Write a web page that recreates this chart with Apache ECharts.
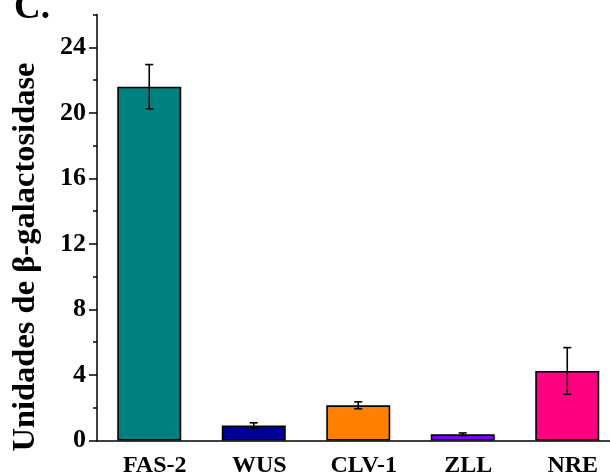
<!DOCTYPE html>
<html>
<head>
<meta charset="utf-8">
<script src="https://cdn.jsdelivr.net/npm/echarts@6/dist/echarts.min.js"></script>
<style>html,body{margin:0;padding:0;background:#fff;}#c{width:610px;height:476px;}</style>
</head>
<body>
<div id="c"></div>
<script>
var categories = ['FAS-2', 'WUS', 'CLV-1', 'ZLL', 'NRE'];
var means = [21.6, 0.92, 2.15, 0.38, 4.25];
var errors = [1.35, 0.16, 0.21, 0.08, 1.42];
var colors = ['#008080', '#000099', '#FF8000', '#8000FF', '#FF0080'];
var yTicks = [0, 4, 8, 12, 16, 20, 24];

var font = 'Liberation Serif';
var chart = echarts.init(document.getElementById('c'), null, {renderer: 'canvas'});

var errData = categories.map(function (c, i) { return [i, means[i] - errors[i], means[i] + errors[i]]; });

var option = {
  animation: false,
  backgroundColor: '#fff',
  grid: [
    {left: 97, width: 522.5, top: 14.6, bottom: 35.5, outerBoundsMode: 'none'},
    {left: 97, width: 522.5, top: 47.4, bottom: 35.5, outerBoundsMode: 'none'}
  ],
  xAxis: [
    {type: 'category', data: categories, gridIndex: 0,
      axisLine: {lineStyle: {color: '#000', width: 1.5}},
      axisTick: {alignWithLabel: true, length: 8, lineStyle: {color: '#000', width: 1.5}},
      axisLabel: {color: '#000', fontFamily: font, fontWeight: 'bold', fontSize: 24, margin: 13, interval: 0,
        padding: [0, 0, 0, 11]}
    },
    {type: 'category', data: categories, gridIndex: 0, position: 'bottom',
      axisLine: {show: false},
      axisTick: {length: 4, interval: 0, lineStyle: {color: '#000', width: 1.5}},
      axisLabel: {show: false}
    },
    {type: 'category', data: categories, gridIndex: 1, show: false}
  ],
  yAxis: [
    {type: 'value', gridIndex: 0, min: 0, max: 26, interval: 2,
      axisLine: {show: true, lineStyle: {color: '#000', width: 1.5}},
      axisTick: {show: true, length: 4, lineStyle: {color: '#000', width: 1.5}},
      axisLabel: {show: false},
      splitLine: {show: false}
    },
    {type: 'value', gridIndex: 1, min: yTicks[0], max: yTicks[yTicks.length - 1], interval: 4,
      axisLine: {show: false},
      axisTick: {show: true, length: 8, lineStyle: {color: '#000', width: 1.5}},
      axisLabel: {color: '#000', fontFamily: font, fontWeight: 'bold', fontSize: 26, margin: 11},
      splitLine: {show: false}
    }
  ],
  series: [
    {type: 'bar', xAxisIndex: 0, yAxisIndex: 0, barWidth: 64,
      data: means.map(function (v, i) {
        return {value: v, itemStyle: {color: colors[i], borderColor: '#000', borderWidth: 1.6}};
      })
    },
    {type: 'custom', xAxisIndex: 0, yAxisIndex: 0, z: 5,
      data: errData,
      renderItem: function (params, api) {
        var lo = api.coord([api.value(0), api.value(1)]);
        var hi = api.coord([api.value(0), api.value(2)]);
        var hw = 4;
        var st = {stroke: '#000', lineWidth: 1.6};
        return {type: 'group', children: [
          {type: 'line', shape: {x1: hi[0], y1: hi[1], x2: lo[0], y2: lo[1]}, style: st},
          {type: 'line', shape: {x1: hi[0] - hw, y1: hi[1], x2: hi[0] + hw, y2: hi[1]}, style: st},
          {type: 'line', shape: {x1: lo[0] - hw, y1: lo[1], x2: lo[0] + hw, y2: lo[1]}, style: st}
        ]};
      }
    }
  ],
  graphic: [
    {type: 'text', left: 14, top: -10,
      style: {text: 'C.', fontFamily: font, fontWeight: 'bold', fontSize: 37, fill: '#000'}},
    {type: 'text', x: 26, y: 257, rotation: Math.PI / 2,
      style: {text: 'Unidades de β-galactosidase', fontFamily: font, fontWeight: 'bold', fontSize: 32.5,
        fill: '#000', align: 'center', verticalAlign: 'middle'}}
  ]
};
chart.setOption(option);
</script>
</body>
</html>
